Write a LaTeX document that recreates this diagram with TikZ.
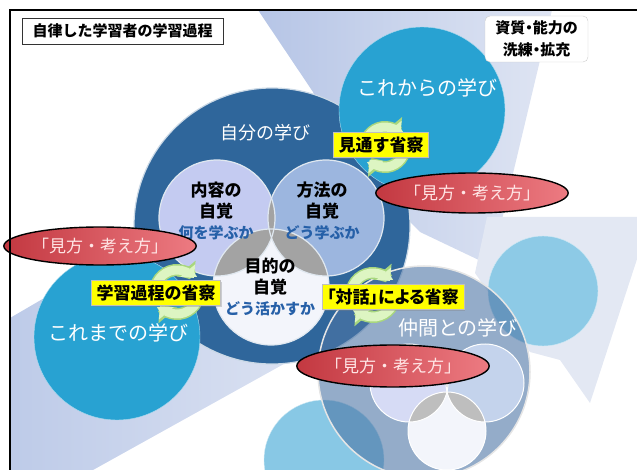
\documentclass[tikz,border=0pt]{standalone}
\usepackage{fontspec}
\setmainfont{Noto Sans CJK JP}
\usetikzlibrary{positioning,shapes.geometric,arrows.meta,shadows}
\tikzset{>=Triangle}
\newcommand*{\fs}[1]{\fontsize{#1}{#1}\selectfont}

\definecolor{bandblue}{HTML}{B6C5E6}
\definecolor{bandlight}{HTML}{DFE5F3}
\definecolor{panelgray}{HTML}{E3E8F3}
\definecolor{selfblue}{HTML}{2F669B}
\definecolor{futureblue}{HTML}{28A2D2}
\definecolor{peerblue}{HTML}{4D75A5}
\definecolor{skyblue}{HTML}{8DCAE6}
\definecolor{contentcol}{HTML}{C4CBF1}
\definecolor{methodcol}{HTML}{9CB6DF}
\definecolor{purposecol}{HTML}{F3F5FB}
\definecolor{lensgray}{HTML}{A3A3A3}
\definecolor{viewred}{HTML}{E5424C}
\definecolor{markyellow}{HTML}{FFFF00}
\definecolor{cyclegreen}{HTML}{DDF5C2}
\definecolor{cycleedge}{HTML}{A8D77E}
\definecolor{subblue}{HTML}{2660A8}

\begin{document}
\begin{tikzpicture}[x=1pt,y=-1pt,
  circtext/.style={text=white,font=\fs{20},inner sep=0pt},
  reflect/.style={fill=markyellow,draw=black!25,font=\bfseries\fs{17},
    inner xsep=5pt,inner ysep=4.5pt,
    drop shadow={shadow xshift=1.5pt,shadow yshift=-1.5pt,opacity=.35}},
  viewpoint/.style={ellipse,draw=black,line width=1.4pt,
    left color=viewred!85!black,right color=viewred!70!white,
    minimum width=180pt,minimum height=40pt,inner sep=0pt,
    text=white!90!red,font=\fs{17}},
  cycedge/.style={line width=12pt,draw=cycleedge,
    -{Triangle[width=24pt,length=12pt]}},
  cycarrow/.style={line width=9pt,draw=cyclegreen,
    -{Triangle[width=19pt,length=9.5pt]}},
  awareness/.style={align=center,font=\bfseries\fontsize{17}{21}\selectfont,inner sep=0pt},
  ring/.style={draw=white!75!selfblue,line width=1.2pt}
]
\useasboundingbox (0,0) rectangle (637,470);
\clip (0,0) rectangle (637,470);

% Draw background bands
\shade[left color=bandblue,right color=bandlight]
  (258,10) -- (552,10) -- (500,228) -- (483,262) -- (420,232)
  -- (330,140) -- (313,92) -- cycle;
\shade[left color=bandblue!90!white,right color=bandlight]
  (10,318) -- (250,178) -- (345,330) -- (93,470) -- (10,470) -- cycle;
\fill[panelgray] (487,217) -- (640,217) -- (640,250) -- (590,403)
  -- (560,360) -- (530,352) -- (475,273) -- cycle;

% Circle centres
\coordinate (self) at (272,226);
\coordinate (future) at (422,110);
\coordinate (past) at (117,337);
\coordinate (peer) at (424,372);
\coordinate (sky) at (543,291);
\coordinate (low) at (324,460);
\coordinate (cont) at (217,218);
\coordinate (meth) at (326,218);
\coordinate (purp) at (271,287);
\coordinate (gl) at (409,383);
\coordinate (gr) at (485,383);
\coordinate (gb) at (447,431);

% Draw outer circles
\fill[skyblue,draw=white!60!skyblue] (sky) circle (55);
\fill[skyblue!95!futureblue,draw=white!60!skyblue] (low) circle (60);
\fill[selfblue,ring] (self) circle (138);
\fill[futureblue,draw=white!60!futureblue] (future) circle (83);
\fill[futureblue,draw=white!60!futureblue] (past) circle (83);

% Draw awareness trio
\fill[contentcol] (cont) circle (58);
\fill[methodcol] (meth) circle (58);
\fill[purposecol] (purp) circle (58);
\foreach \p/\q in {cont/meth,cont/purp,meth/purp}{
  \begin{scope}
    \clip (\p) circle (58);
    \fill[lensgray] (\q) circle (58);
  \end{scope}
}
\foreach \p in {cont,meth,purp}
  \draw[white!85!selfblue,line width=1.2pt] (\p) circle (58);

% Draw peer circle and its ghost trio
\fill[peerblue,opacity=.6] (peer) circle (106);
\draw[white!80!gray,line width=1.5pt] (peer) circle (106);
\fill[contentcol!70!white] (gl) circle (39);
\fill[methodcol!60!white] (gr) circle (39);
\fill[purposecol] (gb) circle (39);
\foreach \p/\q in {gl/gr,gl/gb,gr/gb}{
  \begin{scope}
    \clip (\p) circle (39);
    \fill[lensgray!70!white] (\q) circle (39);
  \end{scope}
}
\foreach \p in {gl,gr,gb}
  \draw[white,line width=1pt] (\p) circle (39);

% Circle labels
\node[circtext,font=\fs{18}] (selfl) at (265,133) {自分の学び};
\node[circtext] (futurel) at (427,88) {これからの学び};
\node[circtext] (pastl) at (118,333) {これまでの学び};
\node[circtext] (peerl) at (458,328) {仲間との学び};
\node[awareness] (contl) at (216,211)
  {内容の\\自覚\\{\color{subblue}\fs{15}何を学ぶか}};
\node[awareness] (methl) at (322,211)
  {方法の\\自覚\\{\color{subblue}\fs{15}どう学ぶか}};
\node[awareness] (purpl) at (270,287)
  {目的の\\自覚\\{\color{subblue}\fs{15}どう活かすか}};

% Draw reflection cycles
\coordinate (cycf) at (385,147);
\coordinate (cycp) at (177,292);
\coordinate (cycd) at (373,295);
\foreach \c/\r in {cycf/20,cycp/22,cycd/22}{
  \foreach \s in {cycedge,cycarrow}{
    \draw[\s] (\c) ++(195:\r) arc[start angle=195,end angle=320,radius=\r];
    \draw[\s] (\c) ++(15:\r) arc[start angle=15,end angle=140,radius=\r];
  }
}

% Reflection labels
\node[reflect] (forel) at (381,145) {見通す省察};
\node[reflect] (procl) at (156,293) {学習過程の省察};
\node[reflect,font=\bfseries\fs{17}\addfontfeatures{RawFeature=+palt}]
  (dial) at (393,297) {「対話」による省察};

% Views and ways of thinking
\node[viewpoint] (viewa) at (472,193) {「見方・考え方」};
\node[viewpoint,minimum width=176pt,minimum height=38pt] (viewb) at (100,246) {「見方・考え方」};
\node[viewpoint,minimum height=42pt] (viewc) at (393,366) {「見方・考え方」};

% Title and corner boxes
\node[draw=black!80,fill=white,font=\bfseries\fs{15},
  minimum width=201pt,minimum height=26pt,inner sep=0pt] (title) at (122.5,31)
  {自律した学習者の学習過程};
\node[draw=black!20,fill=white,rounded corners=5pt,align=center,
  font=\bfseries\fontsize{15}{22}\selectfont\addfontfeatures{RawFeature=+palt},
  minimum width=103pt,minimum height=46pt,inner sep=0pt] (quality) at (536.5,39)
  {資質・能力の\\洗練・拡充};

% Frame
\draw[line width=2pt] (10,10) rectangle (660,490);
\end{tikzpicture}
\end{document}
